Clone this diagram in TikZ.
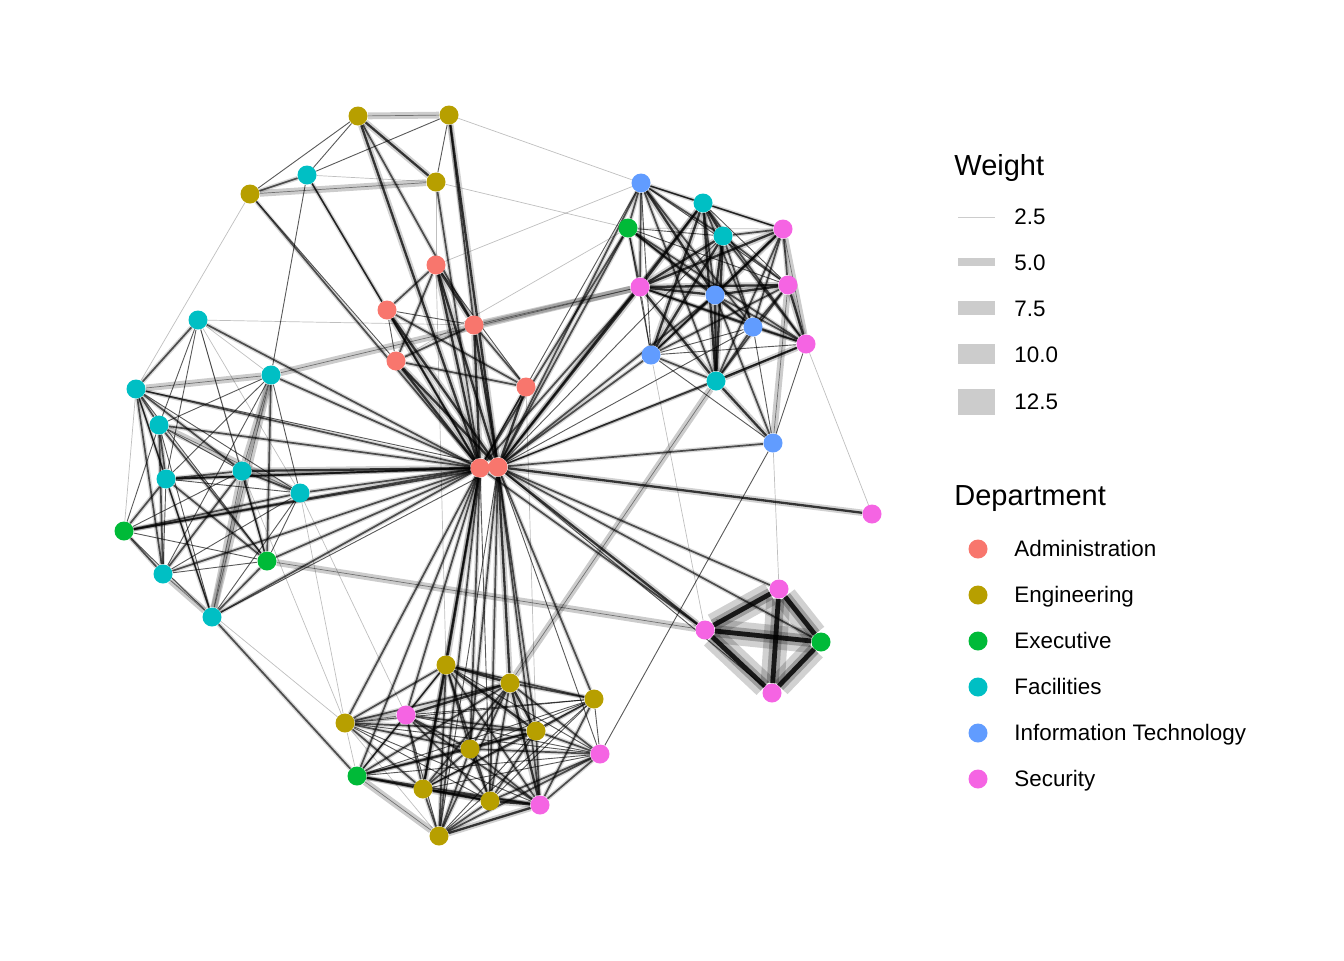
\documentclass[tikz,border=0pt]{standalone}
\usepackage{fontspec}
\setmainfont{Liberation Sans}
\definecolor{admcol}{HTML}{F8766D}
\definecolor{engcol}{HTML}{B79F00}
\definecolor{execol}{HTML}{00BA38}
\definecolor{faccol}{HTML}{00BFC4}
\definecolor{itcol}{HTML}{619CFF}
\definecolor{seccol}{HTML}{F564E3}
\definecolor{keygray}{HTML}{CCCCCC}
\pgfdeclarelayer{edges}
\pgfsetlayers{edges,main}
\begin{document}
\begin{tikzpicture}[x=0.5pt, y=-0.5pt,
  dot/.style={circle, inner sep=0pt, minimum size=9.5pt},
  adm/.style={dot, fill=admcol}, eng/.style={dot, fill=engcol},
  exe/.style={dot, fill=execol}, fac/.style={dot, fill=faccol},
  it/.style={dot, fill=itcol}, sec/.style={dot, fill=seccol},
  faint/.style={draw=black, draw opacity=.25, line width=.35pt},
  lite/.style={draw=black, draw opacity=.65, line width=.45pt},
  link/.style={draw=black, draw opacity=.65, line width=.85pt, preaction={draw=black, draw opacity=.15, line width=2.2pt}},
  bond/.style={draw=black, draw opacity=.75, line width=1.15pt, preaction={draw=black, draw opacity=.18, line width=3.2pt}},
  pale/.style={draw=black, draw opacity=.45, line width=.35pt, preaction={draw=black, draw opacity=.2, line width=3.4pt}},
  tie/.style={draw=black, draw opacity=.85, line width=2.4pt, preaction={draw=black, draw opacity=.18, line width=12pt}, postaction={draw=black, draw opacity=.25, line width=6pt}},
  title/.style={anchor=west, inner sep=0pt, font=\fontsize{14.5}{17}\selectfont},
  label/.style={anchor=west, text height=0.72em, text depth=0pt, inner sep=0pt, font=\fontsize{11.2}{13}\selectfont}]
\useasboundingbox (0,0) rectangle (1344,960);
% top group
\node[eng] (eng1) at (358,116){};
\node[eng] (eng2) at (449,115){};
\node[eng] (eng3) at (250,194){};
\node[eng] (eng4) at (436,182){};
\node[fac] (fac1) at (307,175){};
% administration
\node[adm] (adm1) at (436,265){};
\node[adm] (adm2) at (387,310){};
\node[adm] (adm3) at (474,325){};
\node[adm] (adm4) at (396,361){};
\node[adm] (adm5) at (526,387){};
\node[adm] (adm6) at (480,468){};
\node[adm] (adm7) at (498,467){};
% IT group
\node[it] (it1) at (641,183){};
\node[fac] (fac2) at (703,203){};
\node[exe] (exe1) at (628,228){};
\node[fac] (fac3) at (723,236){};
\node[sec] (sec1) at (783,229){};
\node[sec] (sec2) at (640,287){};
\node[it] (it2) at (715,295){};
\node[sec] (sec3) at (788,285){};
\node[it] (it3) at (753,327){};
\node[sec] (sec4) at (806,344){};
\node[it] (it4) at (651,355){};
\node[fac] (fac4) at (716,381){};
\node[it] (it5) at (773,443){};
\node[sec] (sec5) at (872,514){};
% facilities group
\node[fac] (fac5) at (198,320){};
\node[fac] (fac6) at (136,389){};
\node[fac] (fac7) at (271,375){};
\node[fac] (fac8) at (159,425){};
\node[fac] (fac9) at (166,479){};
\node[fac] (fac10) at (242,471){};
\node[fac] (fac11) at (300,493){};
\node[exe] (exe2) at (124,531){};
\node[exe] (exe3) at (267,561){};
\node[fac] (fac12) at (163,574){};
\node[fac] (fac13) at (212,617){};
% square
\node[sec] (sec6) at (779,589){};
\node[sec] (sec7) at (705,630){};
\node[exe] (exe4) at (821,642){};
\node[sec] (sec8) at (772,693){};
% bottom group
\node[eng] (eng5) at (446,665){};
\node[eng] (eng6) at (510,683){};
\node[eng] (eng7) at (594,699){};
\node[eng] (eng8) at (345,723){};
\node[sec] (sec9) at (406,715){};
\node[eng] (eng9) at (536,731){};
\node[eng] (eng10) at (470,749){};
\node[sec] (sec10) at (600,754){};
\node[exe] (exe5) at (357,776){};
\node[eng] (eng11) at (423,789){};
\node[eng] (eng12) at (490,801){};
\node[sec] (sec11) at (540,805){};
\node[eng] (eng13) at (439,836){};
\begin{pgfonlayer}{edges}
% top group
\draw[pale](eng1) -- (eng2);
\draw[pale](eng3) -- (eng4);
\draw[link](eng3) -- (fac1);
\draw[bond](eng1) -- (eng4);
\draw[lite](eng1) -- (eng3);
\draw[lite](eng1) -- (fac1);
\draw[lite](eng2) -- (fac1);
\draw[faint](fac1) -- (eng4);
\draw[lite](eng2) -- (eng4);
\draw[bond](eng1) -- (adm6);
\draw[link](eng1) -- (adm3);
\draw[bond](eng2) -- (adm7);
\draw[link](eng2) -- (adm3);
\draw[link](eng4) -- (adm6);
\draw[faint](eng4) -- (adm1);
\draw[link](eng3) -- (adm6);
\draw[lite](eng3) -- (adm4);
\draw[link](fac1) -- (adm2);
\draw[lite](fac1) -- (adm6);
\draw[lite](fac1) -- (fac7);
\draw[faint](eng3) -- (fac6);
\draw[faint](eng2) -- (it1);
\draw[faint](eng4) -- (exe1);
% administration
\draw[link](adm1) -- (adm2);
\draw[bond](adm1) -- (adm3);
\draw[link](adm1) -- (adm4);
\draw[bond](adm1) -- (adm6);
\draw[bond](adm1) -- (adm7);
\draw[lite](adm1) -- (adm5);
\draw[lite](adm2) -- (adm3);
\draw[link](adm2) -- (adm5);
\draw[bond](adm2) -- (adm6);
\draw[bond](adm2) -- (adm7);
\draw[lite](adm2) -- (adm4);
\draw[bond](adm3) -- (adm6);
\draw[bond](adm3) -- (adm7);
\draw[link](adm3) -- (adm4);
\draw[link](adm3) -- (adm5);
\draw[bond](adm4) -- (adm6);
\draw[link](adm4) -- (adm5);
\draw[bond](adm4) -- (adm7);
\draw[link](adm5) -- (adm6);
\draw[bond](adm5) -- (adm7);
\draw[bond](adm6) -- (adm7);
\draw[pale](adm3) -- (sec2);
\draw[faint](adm1) -- (it1);
\draw[faint](adm4) -- (exe1);
\draw[faint](adm1) -- (eng5);
\draw[faint](adm5) -- (eng9);
% hub to facilities group
\draw[link](adm6) -- (fac5);
\draw[link](adm6) -- (fac6);
\draw[link](adm6) -- (fac7);
\draw[link](adm6) -- (fac8);
\draw[link](adm6) -- (fac9);
\draw[bond](adm6) -- (fac10);
\draw[link](adm6) -- (fac11);
\draw[link](adm6) -- (exe2);
\draw[link](adm6) -- (exe3);
\draw[link](adm6) -- (fac12);
\draw[link](adm6) -- (fac13);
\draw[lite](adm7) -- (fac6);
\draw[link](adm7) -- (fac9);
\draw[link](adm7) -- (exe2);
\draw[lite](adm7) -- (fac13);
\draw[faint](fac5) -- (adm3);
\draw[pale](fac7) -- (sec2);
% hub to IT group
\draw[link](adm7) -- (it1);
\draw[link](adm7) -- (exe1);
\draw[link](adm7) -- (fac2);
\draw[bond](adm7) -- (sec2);
\draw[link](adm7) -- (it2);
\draw[link](adm7) -- (it4);
\draw[link](adm7) -- (fac4);
\draw[lite](adm7) -- (sec4);
\draw[lite](adm7) -- (it3);
\draw[link](adm7) -- (it5);
\draw[bond](adm7) -- (sec5);
\draw[lite](adm7) -- (fac3);
\draw[lite](adm6) -- (it1);
\draw[link](adm6) -- (exe1);
\draw[link](adm6) -- (sec2);
% hub to square
\draw[link](adm7) -- (sec6);
\draw[bond](adm7) -- (sec7);
\draw[link](adm6) -- (sec7);
\draw[link](adm7) -- (exe4);
\draw[lite](adm7) -- (sec8);
% hub to bottom group
\draw[bond](adm6) -- (eng5);
\draw[link](adm6) -- (eng8);
\draw[link](adm6) -- (sec9);
\draw[link](adm6) -- (exe5);
\draw[link](adm6) -- (eng11);
\draw[link](adm6) -- (eng13);
\draw[link](adm6) -- (eng10);
\draw[lite](adm6) -- (eng12);
\draw[bond](adm7) -- (eng6);
\draw[link](adm7) -- (eng7);
\draw[link](adm7) -- (eng9);
\draw[lite](adm7) -- (sec10);
\draw[link](adm7) -- (eng12);
\draw[link](adm7) -- (sec11);
\draw[link](adm7) -- (eng10);
\draw[lite](adm7) -- (eng13);
% IT group
\draw[link](it1) -- (fac2);
\draw[link](it1) -- (exe1);
\draw[link](it1) -- (sec2);
\draw[bond](it1) -- (it2);
\draw[link](it1) -- (fac3);
\draw[lite](it1) -- (sec1);
\draw[link](it1) -- (it3);
\draw[lite](it1) -- (sec3);
\draw[lite](it1) -- (it4);
\draw[link](it1) -- (fac4);
\draw[bond](fac2) -- (fac3);
\draw[link](fac2) -- (sec1);
\draw[bond](fac2) -- (sec2);
\draw[link](fac2) -- (it2);
\draw[lite](fac2) -- (sec3);
\draw[link](fac2) -- (it3);
\draw[link](fac2) -- (sec4);
\draw[bond](fac2) -- (it4);
\draw[bond](fac2) -- (fac4);
\draw[lite](exe1) -- (fac3);
\draw[faint](exe1) -- (sec1);
\draw[link](exe1) -- (sec2);
\draw[link](exe1) -- (it2);
\draw[lite](exe1) -- (sec3);
\draw[link](exe1) -- (it3);
\draw[link](exe1) -- (sec4);
\draw[lite](exe1) -- (it4);
\draw[link](fac3) -- (sec1);
\draw[bond](fac3) -- (sec2);
\draw[bond](fac3) -- (it2);
\draw[link](fac3) -- (sec3);
\draw[link](fac3) -- (it3);
\draw[link](fac3) -- (sec4);
\draw[bond](fac3) -- (it4);
\draw[bond](fac3) -- (fac4);
\draw[bond](sec1) -- (sec2);
\draw[bond](sec1) -- (it2);
\draw[link](sec1) -- (sec3);
\draw[link](sec1) -- (it3);
\draw[pale](sec1) -- (sec4);
\draw[link](sec1) -- (it4);
\draw[link](sec1) -- (fac4);
\draw[bond](sec2) -- (it2);
\draw[bond](sec2) -- (sec3);
\draw[link](sec2) -- (it3);
\draw[link](sec2) -- (sec4);
\draw[lite](sec2) -- (it4);
\draw[bond](sec2) -- (fac4);
\draw[bond](it2) -- (sec3);
\draw[link](it2) -- (it3);
\draw[link](it2) -- (sec4);
\draw[link](it2) -- (it4);
\draw[bond](it2) -- (fac4);
\draw[link](it2) -- (it5);
\draw[link](sec3) -- (it3);
\draw[bond](sec3) -- (sec4);
\draw[link](sec3) -- (it4);
\draw[link](sec3) -- (fac4);
\draw[pale](sec3) -- (it5);
\draw[link](it3) -- (sec4);
\draw[lite](it3) -- (it4);
\draw[link](it3) -- (fac4);
\draw[lite](it3) -- (it5);
\draw[lite](sec4) -- (it4);
\draw[bond](sec4) -- (fac4);
\draw[lite](sec4) -- (it5);
\draw[faint](sec4) -- (sec5);
\draw[link](it4) -- (fac4);
\draw[lite](it4) -- (it5);
\draw[bond](fac4) -- (it5);
\draw[faint](it5) -- (sec6);
\draw[faint](it4) -- (sec7);
\draw[lite](it5) -- (sec10);
\draw[pale](fac4) -- (eng6);
% facilities group
\draw[link](fac5) -- (fac6);
\draw[faint](fac5) -- (fac7);
\draw[lite](fac5) -- (fac8);
\draw[lite](fac5) -- (fac9);
\draw[faint](fac5) -- (fac10);
\draw[faint](fac5) -- (fac11);
\draw[lite](fac5) -- (exe3);
\draw[pale](fac6) -- (fac7);
\draw[link](fac6) -- (fac8);
\draw[link](fac6) -- (fac9);
\draw[link](fac6) -- (fac10);
\draw[lite](fac6) -- (fac11);
\draw[faint](fac6) -- (exe2);
\draw[link](fac6) -- (fac12);
\draw[lite](fac6) -- (fac13);
\draw[lite](fac6) -- (exe3);
\draw[lite](fac7) -- (fac8);
\draw[lite](fac7) -- (fac9);
\draw[pale](fac7) -- (fac10);
\draw[lite](fac7) -- (fac11);
\draw[pale](fac7) -- (fac13);
\draw[lite](fac7) -- (fac12);
\draw[link](fac7) -- (exe3);
\draw[link](fac8) -- (fac9);
\draw[lite](fac8) -- (fac10);
\draw[lite](fac8) -- (exe2);
\draw[link](fac8) -- (fac12);
\draw[link](fac8) -- (exe3);
\draw[lite](fac8) -- (fac13);
\draw[pale](fac8) -- (fac11);
\draw[link](fac9) -- (fac10);
\draw[lite](fac9) -- (fac11);
\draw[link](fac9) -- (exe2);
\draw[lite](fac9) -- (fac12);
\draw[link](fac9) -- (exe3);
\draw[link](fac9) -- (fac13);
\draw[link](fac10) -- (fac11);
\draw[lite](fac10) -- (exe2);
\draw[link](fac10) -- (exe3);
\draw[link](fac10) -- (fac12);
\draw[pale](fac10) -- (fac13);
\draw[link](fac11) -- (exe2);
\draw[lite](fac11) -- (fac12);
\draw[lite](fac11) -- (fac13);
\draw[lite](fac11) -- (exe3);
\draw[lite](exe2) -- (exe3);
\draw[link](exe2) -- (fac12);
\draw[lite](exe2) -- (fac13);
\draw[lite](exe3) -- (fac12);
\draw[link](exe3) -- (fac13);
\draw[pale](fac12) -- (fac13);
\draw[link](fac13) -- (exe5);
\draw[faint](fac12) -- (eng8);
\draw[faint](fac11) -- (eng8);
\draw[faint](fac11) -- (sec9);
\draw[faint](fac10) -- (eng8);
\draw[pale](exe3) -- (sec7);
% square
\draw[tie](sec6) -- (sec7);
\draw[tie](sec6) -- (exe4);
\draw[tie](sec6) -- (sec8);
\draw[tie](sec7) -- (exe4);
\draw[tie](sec7) -- (sec8);
\draw[tie](exe4) -- (sec8);
% bottom group
\draw[bond](eng5) -- (eng6);
\draw[link](eng5) -- (eng7);
\draw[link](eng5) -- (eng8);
\draw[link](eng5) -- (sec9);
\draw[bond](eng5) -- (eng9);
\draw[link](eng5) -- (eng10);
\draw[lite](eng5) -- (sec10);
\draw[lite](eng5) -- (exe5);
\draw[bond](eng5) -- (eng11);
\draw[link](eng5) -- (eng12);
\draw[link](eng5) -- (sec11);
\draw[link](eng5) -- (eng13);
\draw[link](eng6) -- (eng7);
\draw[link](eng6) -- (eng8);
\draw[bond](eng6) -- (sec9);
\draw[bond](eng6) -- (eng9);
\draw[link](eng6) -- (eng10);
\draw[link](eng6) -- (sec10);
\draw[link](eng6) -- (exe5);
\draw[link](eng6) -- (eng11);
\draw[link](eng6) -- (eng12);
\draw[bond](eng6) -- (sec11);
\draw[link](eng6) -- (eng13);
\draw[lite](eng7) -- (eng8);
\draw[lite](eng7) -- (sec9);
\draw[link](eng7) -- (eng9);
\draw[lite](eng7) -- (eng10);
\draw[lite](eng7) -- (sec10);
\draw[lite](eng7) -- (exe5);
\draw[lite](eng7) -- (eng11);
\draw[lite](eng7) -- (eng12);
\draw[link](eng7) -- (sec11);
\draw[lite](eng7) -- (eng13);
\draw[pale](eng8) -- (sec9);
\draw[link](eng8) -- (eng9);
\draw[link](eng8) -- (eng10);
\draw[lite](eng8) -- (sec10);
\draw[faint](eng8) -- (exe5);
\draw[link](eng8) -- (eng11);
\draw[lite](eng8) -- (eng12);
\draw[lite](eng8) -- (sec11);
\draw[faint](eng8) -- (eng13);
\draw[link](sec9) -- (eng9);
\draw[link](sec9) -- (eng10);
\draw[lite](sec9) -- (sec10);
\draw[link](sec9) -- (exe5);
\draw[link](sec9) -- (eng11);
\draw[link](sec9) -- (eng12);
\draw[link](sec9) -- (sec11);
\draw[lite](sec9) -- (eng13);
\draw[link](eng9) -- (eng10);
\draw[link](eng9) -- (sec10);
\draw[link](eng9) -- (exe5);
\draw[link](eng9) -- (eng11);
\draw[link](eng9) -- (eng12);
\draw[link](eng9) -- (sec11);
\draw[lite](eng9) -- (eng13);
\draw[link](eng10) -- (sec10);
\draw[link](eng10) -- (exe5);
\draw[link](eng10) -- (eng11);
\draw[link](eng10) -- (eng12);
\draw[link](eng10) -- (sec11);
\draw[link](eng10) -- (eng13);
\draw[lite](sec10) -- (exe5);
\draw[lite](sec10) -- (eng11);
\draw[link](sec10) -- (eng12);
\draw[link](sec10) -- (sec11);
\draw[link](sec10) -- (eng13);
\draw[link](exe5) -- (eng11);
\draw[link](exe5) -- (eng12);
\draw[link](exe5) -- (sec11);
\draw[pale](exe5) -- (eng13);
\draw[bond](eng11) -- (eng12);
\draw[link](eng11) -- (sec11);
\draw[link](eng11) -- (eng13);
\draw[bond](eng12) -- (sec11);
\draw[link](eng12) -- (eng13);
\draw[bond](sec11) -- (eng13);
\end{pgfonlayer}
% legend
\node[title] (wtitle) at (954,168) {Weight};
\fill[keygray] (958,216.5) rectangle (995,217.5);
\fill[keygray] (958,258) rectangle (995,266);
\fill[keygray] (958,301) rectangle (995,315);
\fill[keygray] (958,344) rectangle (995,364);
\fill[keygray] (958,389) rectangle (995,415);
\node[label] (w1) at (1014,217) {2.5};
\node[label] (w2) at (1014,263) {5.0};
\node[label] (w3) at (1014,309) {7.5};
\node[label] (w4) at (1014,355) {10.0};
\node[label] (w5) at (1014,402) {12.5};
\node[title] (dtitle) at (954,499) {Department};
\node[adm] (kadm) at (978,549){};
\node[eng] (keng) at (978,595){};
\node[exe] (kexe) at (978,641){};
\node[fac] (kfac) at (978,687){};
\node[it] (kit) at (978,733){};
\node[sec] (ksec) at (978,779){};
\node[label] (ladm) at (1014,549) {Administration};
\node[label] (leng) at (1014,595) {Engineering};
\node[label] (lexe) at (1014,641) {Executive};
\node[label] (lfac) at (1014,687) {Facilities};
\node[label] (lit) at (1014,733) {Information Technology};
\node[label] (lsec) at (1014,779) {Security};
\end{tikzpicture}
\end{document}
